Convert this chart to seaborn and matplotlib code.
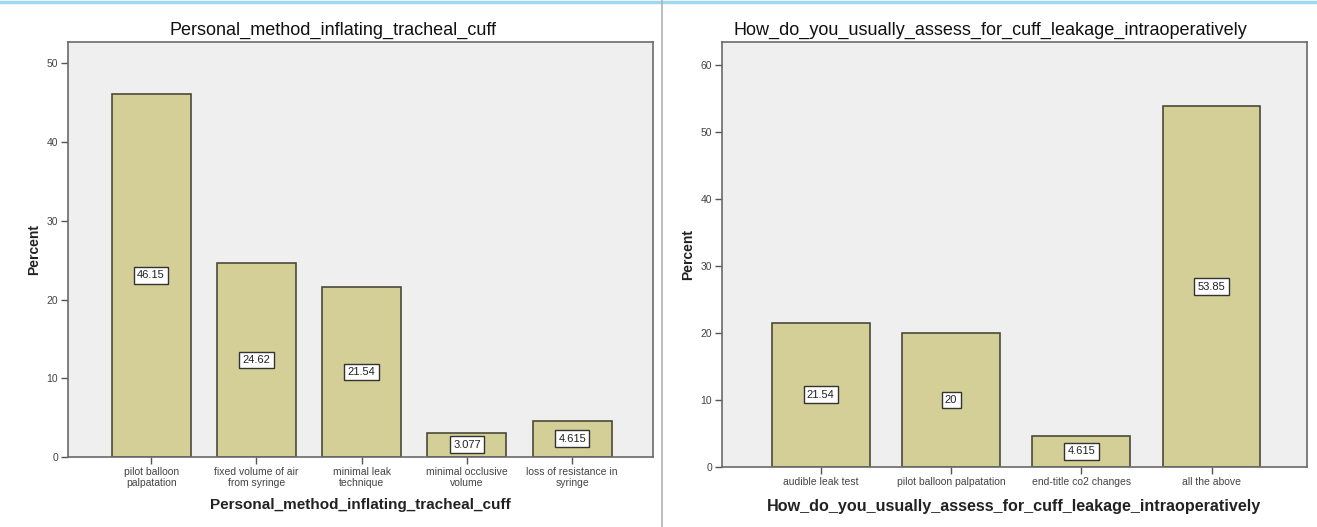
import matplotlib
matplotlib.use("Agg")
import matplotlib.pyplot as plt
from matplotlib.lines import Line2D
import seaborn as sns

# left chart
left_title = "Personal_method_inflating_tracheal_cuff"
left_cats = ["pilot balloon\npalpatation", "fixed volume of air\nfrom syringe",
             "minimal leak\ntechnique", "minimal occlusive\nvolume",
             "loss of resistance in\nsyringe"]
left_vals = [46.15, 24.62, 21.54, 3.077, 4.615]
left_labels = ["46.15", "24.62", "21.54", "3.077", "4.615"]

# right chart
right_title = "How_do_you_usually_assess_for_cuff_leakage_intraoperatively"
right_cats = ["audible leak test", "pilot balloon palpatation",
              "end-title co2 changes", "all the above"]
right_vals = [21.54, 20.0, 4.615, 53.85]
right_labels = ["21.54", "20", "4.615", "53.85"]

BAR = "#d3cf97"
EDGE = "#4a4a3a"
BG = "#efefef"

sns.set_style("white")
plt.rcParams['font.family'] = ['Liberation Sans', 'DejaVu Sans']

fig = plt.figure(figsize=(13.17, 5.27), dpi=100)
ax1 = fig.add_axes([0.0516, 0.133, 0.4444, 0.787])
ax2 = fig.add_axes([0.548, 0.114, 0.4442, 0.806])

def draw(ax, cats, vals, labels, title, ylim, xlim, yticks, xpad, tx, xsize):
    sns.barplot(x=cats, y=vals, color=BAR, edgecolor=EDGE, linewidth=1.2,
                width=0.75, saturation=1, ax=ax)
    ax.set_facecolor(BG)
    ax.set_xlim(*xlim)
    ax.set_ylim(*ylim)
    ax.set_yticks(yticks)
    for s in ax.spines.values():
        s.set_color("#6a6a6a")
        s.set_linewidth(1.2)
    ax.tick_params(axis='both', length=5, width=1, color="#555555",
                   labelsize=7.5, labelcolor="#444444", direction='out',
                   bottom=True, left=True, pad=2)
    ax.bar_label(ax.containers[0], labels=labels, label_type='center',
                 fontsize=8, color="#222222",
                 bbox=dict(boxstyle='square,pad=0.3', fc='white',
                           ec='#333333', lw=1))
    ax.set_title(title, fontsize=13, color="#111111", pad=5, x=tx)
    ax.set_xlabel(title, fontsize=xsize, fontweight='bold', color="#222222",
                  labelpad=xpad)
    ax.set_ylabel("Percent", fontsize=10, fontweight='bold', color="#222222",
                  labelpad=4)

draw(ax1, left_cats, left_vals, left_labels, left_title,
     (0, 52.7), (-0.79, 4.77), [0, 10, 20, 30, 40, 50], 7, 0.453, 11)
draw(ax2, right_cats, right_vals, right_labels, right_title,
     (0, 63.4), (-0.76, 3.73), [0, 10, 20, 30, 40, 50, 60], 9, 0.459, 11.6)

# frame decorations from the screenshot
fig.add_artist(Line2D([0, 1], [0.997, 0.997], color="#9fd8f2", lw=2.5))
fig.add_artist(Line2D([662 / 1317, 662 / 1317], [0, 1], color="#b0b0b0", lw=1.2))

fig.savefig("out.png", dpi=100, facecolor="white")
